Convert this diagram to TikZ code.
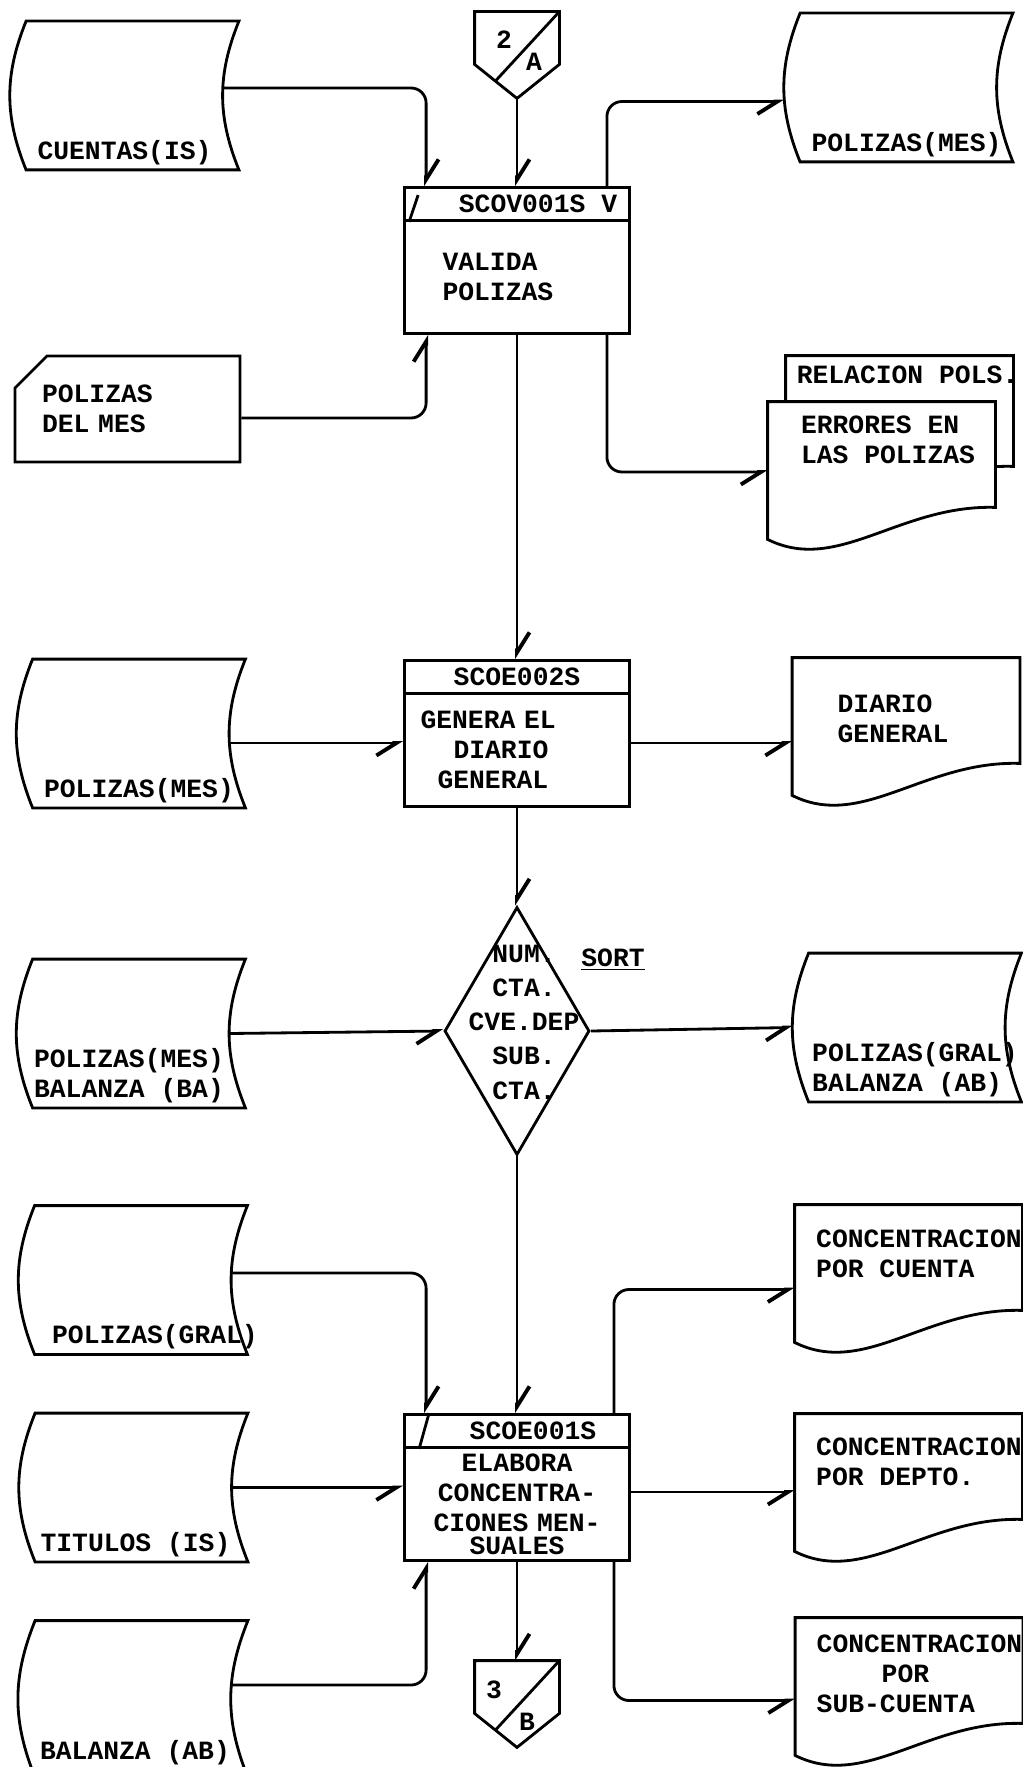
\documentclass[tikz,border=0pt]{standalone}
\usepackage{fontspec}
\setmonofont{Liberation Mono}
\usetikzlibrary{arrows.meta,shapes,calc}

\begin{document}
\begin{tikzpicture}[node distance=8cm,>={Straight Barb[harpoon,length=0.4cm,width=0.5cm,line width=2.2pt]},line width=1.6pt,font=\ttfamily\bfseries\fontsize{15}{17}\selectfont]

	\tikzstyle{cabeza}=[rectangle,draw,minimum width=4.5cm,minimum height=0.66cm,inner sep=0pt]
	\tikzstyle{proceso}=[rectangle,draw,minimum width=4.5cm,minimum height=2.26cm,align=left]
	\tikzstyle{rombo}=[diamond,draw,minimum width=2.9cm,minimum height=4.96cm,inner sep=0pt]
	\tikzstyle{tarjeta}=[chamfered rectangle,chamfered rectangle corners=north west,chamfered rectangle xsep=0.36cm,chamfered rectangle ysep=0.28cm,draw,minimum width=4.5cm,minimum height=2.12cm,text width=3.42cm,align=left]
	\tikzstyle{datos}=[rectangle,minimum width=4.2cm,minimum height=2.92cm,inner sep=0pt,
		append after command={\pgfextra{\draw (\tikzlastnode.north west) -- (\tikzlastnode.north east) to[bend right=22] (\tikzlastnode.south east) -- (\tikzlastnode.south west) to[bend left=22] (\tikzlastnode.north west) -- cycle;}}]
	\tikzstyle{documento}=[rectangle,minimum width=4.5cm,minimum height=2.7cm,inner sep=0pt,
		append after command={\pgfextra{\draw[fill=white] (\tikzlastnode.south west) -- (\tikzlastnode.north west) -- (\tikzlastnode.north east) -- ([yshift=0.64cm]\tikzlastnode.south east) .. controls +(-1.92,0.06) and +(1.4,-0.7) .. (\tikzlastnode.south west) -- cycle;}}]
	\tikzstyle{conector}=[rectangle,minimum width=1.64cm,minimum height=1cm,inner sep=0pt,
		append after command={\pgfextra{\draw (\tikzlastnode.south west) -- (\tikzlastnode.north west) -- (\tikzlastnode.north east) -- (\tikzlastnode.south east) -- ([yshift=-0.68cm]\tikzlastnode.south) -- cycle;
		\draw ([xshift=0.41cm,yshift=-0.34cm]\tikzlastnode.south west) -- (\tikzlastnode.north east);}}]
	\tikzstyle{every label}=[inner sep=0.08cm]
	\tikzstyle{vflujo}=[->,rounded corners=0.3cm]
	\tikzstyle{hflujo}=[-{Straight Barb[harpoon,swap,length=0.4cm,width=0.5cm,line width=2.2pt]},rounded corners=0.3cm]

	\useasboundingbox (0,0) rectangle (20.44,-35.34);

	% columna central
	\node [cabeza] (vhead) at (10.34,-4.08) {\hspace*{0.84cm}SCOV001S V};
	\node [proceso,text width=2.98cm] (vbody) [node distance=1.46cm,below of=vhead] {VALIDA\\POLIZAS};
	\node [cabeza] (ghead) [below of=vbody] {SCOE002S};
	\node [proceso,text width=3.86cm] (gbody) [node distance=1.46cm,below of=ghead] {GENERA EL\\\hspace*{0.66cm}DIARIO\\\hspace*{0.34cm}GENERAL};
	\node [rombo] (sort) [node distance=5.62cm,below of=gbody] {};
	\node [cabeza] (ehead) [below of=sort] {\hspace*{0.64cm}SCOE001S};
	\node [proceso,text width=4.1cm,align=center] (ebody) [node distance=1.46cm,below of=ehead] {ELABORA\\CONCENTRA-\\CIONES MEN-\\[-0.14cm]SUALES};

	\node [align=center,font=\ttfamily\bfseries\fontsize{15}{19.5}\selectfont] (clave) at ($(sort)+(0.14,0.18)$) {NUM.\\CTA.\\CVE.DEP\\SUB.\\CTA.};
	\node (ordena) at ($(sort)+(1.92,1.42)$) {\underline{SORT}};

	% conectores de pagina
	\node [conector] (c2a) [node distance=3.32cm,above of=vhead] {};
	\node (dos) at ($(c2a)+(-0.26,-0.04)$) {2};
	\node (letraA) at ($(c2a)+(0.34,-0.48)$) {A};
	\node [conector] (c3b) [node distance=3.66cm,below of=ebody] {};
	\node (tres) at ($(c3b)+(-0.46,-0.06)$) {3};
	\node (letraB) at ($(c3b)+(0.2,-0.7)$) {B};

	% entradas
	\node [datos,label={[anchor=south,xshift=-0.16cm]below:CUENTAS(IS)}] (cuentas) at (2.65,-1.91) {};
	\node [tarjeta] (card) at (2.55,-8.18) {POLIZAS\\DEL MES};
	\node [datos,label={[anchor=south]below:POLIZAS(MES)}] (polmesB) at (2.78,-14.67) {};
	\node [datos,label={[anchor=south,align=left,xshift=-0.2cm]below:POLIZAS(MES)\\BALANZA (BA)}] (polba) at (2.78,-20.67) {};
	\node [datos,label={[anchor=south,xshift=0.28cm]below:POLIZAS(GRAL)}] (polgral) at (2.82,-25.6) {};
	\node [datos,label={[anchor=south,xshift=-0.12cm]below:TITULOS (IS)}] (titulos) at (2.83,-29.75) {};
	\node [datos,minimum height=3.08cm,label={[anchor=south,xshift=-0.13cm,yshift=0.14cm]below:BALANZA (AB)}] (balanza) at (2.83,-33.98) {};

	% salidas
	\node [datos,label={[anchor=south]below:POLIZAS(MES)}] (polmesA) at (18.13,-1.75) {};
	\node [documento,minimum height=2.8cm,label={[anchor=north,xshift=0.16cm,yshift=-0.1cm]above:RELACION POLS.}] (relacion) at (17.99,-8.54) {};
	\node [documento,label={[anchor=north,align=left,xshift=0.13cm,yshift=-0.18cm]above:ERRORES EN\\LAS POLIZAS}] (errores) at (17.63,-9.41) {};
	\node [documento,label={[anchor=north,align=left,xshift=-0.26cm,yshift=-0.64cm]above:DIARIO\\GENERAL}] (diario) at (18.12,-14.53) {};
	\node [datos,label={[anchor=south,align=left]below:POLIZAS(GRAL)\\BALANZA (AB)}] (gralab) at (18.3,-20.55) {};
	\node [documento,label={[anchor=north,align=left,xshift=0.21cm,yshift=-0.4cm]above:CONCENTRACION\\POR CUENTA}] (conc1) at (18.17,-25.47) {};
	\node [documento,label={[anchor=north,align=left,xshift=0.21cm,yshift=-0.38cm]above:CONCENTRACION\\POR DEPTO.}] (conc2) at (18.17,-29.65) {};
	\node [documento,label={[anchor=north,align=left,xshift=0.21cm,yshift=-0.24cm]above:CONCENTRACION\\\hspace*{1.3cm}POR\\SUB-CUENTA}] (conc3) at (18.18,-33.73) {};

	% marcas en las cabezas
	\draw ([xshift=0.12cm]vhead.south west) -- ([xshift=0.3cm,yshift=-0.18cm]vhead.north west);
	\draw ([xshift=0.32cm]ehead.south west) -- ([xshift=0.52cm]ehead.north west);

	% flujo
	\draw [vflujo] ([xshift=-0.32cm,yshift=0.15cm]cuentas.east) -| ([xshift=0.46cm]vhead.north west);
	\draw [vflujo] ([yshift=-0.68cm]c2a.south) -- (vhead);
	\draw [vflujo] ([yshift=-0.18cm]card.east) -| ([xshift=0.46cm]vbody.south west);
	\draw [hflujo] ([xshift=-0.48cm]vhead.north east) |- ([xshift=-0.32cm,yshift=-0.28cm]polmesA.west);
	\draw [hflujo] ([xshift=-0.48cm]vbody.south east) |- ([yshift=-0.03cm]errores.west);
	\draw [vflujo] (vbody) -- (ghead);
	\draw [hflujo] ($(gbody.west -| polmesB.east)+(-0.32,0.14)$) -- ($(gbody.west)+(0,0.14)$);
	\draw [hflujo] ($(gbody.east)+(0,0.14)$) -- ($(gbody.east -| diario.west)+(0,0.14)$);
	\draw [vflujo] (gbody) -- (sort);
	\draw [hflujo] ([xshift=-0.32cm]polba.east) -- (sort.west);
	\draw [hflujo] (sort.east) -- ([xshift=-0.32cm]gralab.west);
	\draw [vflujo] (sort) -- (ehead);
	\draw [vflujo] ([xshift=-0.32cm,yshift=0.14cm]polgral.east) -| ([xshift=0.46cm]ehead.north west);
	\draw [hflujo] ([xshift=-0.32cm]titulos.east) -- (titulos.east -| ebody.west);
	\draw [vflujo] ([xshift=-0.32cm,yshift=0.28cm]balanza.east) -| ([xshift=0.46cm]ebody.south west);
	\draw [vflujo] (ebody) -- (c3b);
	\draw [hflujo] ([xshift=-0.34cm]ehead.north east) |- ([yshift=-0.32cm]conc1.west);
	\draw [hflujo] ($(ebody.east)+(0,0.24)$) -- ($(ebody.east -| conc2.west)+(0,0.24)$);
	\draw [hflujo] ([xshift=-0.34cm]ebody.south east) |- ([yshift=-0.28cm]conc3.west);

\end{tikzpicture}
\end{document}
